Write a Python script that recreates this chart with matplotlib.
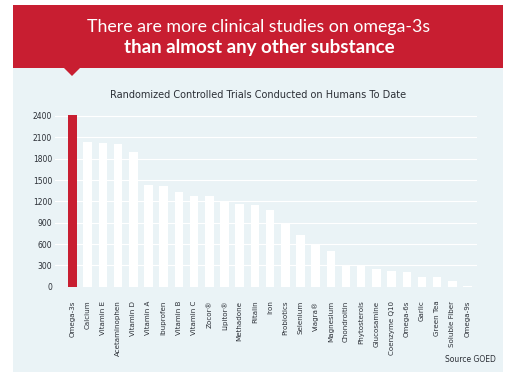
import matplotlib

matplotlib.use("Agg")
import matplotlib.pyplot as plt
from matplotlib.patches import Rectangle, Polygon

# data
substances = [
    "Omega-3s", "Calcium", "Vitamin E", "Acetaminophen", "Vitamin D",
    "Vitamin A", "Ibuprofen", "Vitamin B", "Vitamin C", "Zocor®",
    "Lipitor®", "Methadone", "Ritalin", "Iron", "Probiotics",
    "Selenium", "Viagra®", "Magnesium", "Chondroitin", "Phytosterols",
    "Glucosamine", "Coenzyme Q10", "Omega-6s", "Garlic", "Green Tea",
    "Soluble Fiber", "Omega-9s",
]
trials = [
    2410, 2030, 2015, 2000, 1890,
    1430, 1415, 1335, 1280, 1280,
    1205, 1165, 1150, 1080, 890,
    730, 600, 505, 285, 285,
    245, 225, 200, 140, 140,
    80, 10,
]
yticks = [0, 300, 600, 900, 1200, 1500, 1800, 2100, 2400]

RED = "#c81e31"
PANEL = "#eaf3f6"
TEXT = "#2b2f36"
NARROW = ["Liberation Sans Narrow", "DejaVu Sans"]

fig = plt.figure(figsize=(5.2, 3.74), dpi=100)
W, H = 520, 374


def px(x, y):
    return x / W, 1 - y / H


# light panel and red banner with notch
fig.patches.append(Rectangle(px(13, 372), 490 / W, 304 / H, transform=fig.transFigure,
                             facecolor=PANEL, edgecolor="none", zorder=-3))
fig.patches.append(Rectangle(px(13, 68), 490 / W, 63 / H, transform=fig.transFigure,
                             facecolor=RED, edgecolor="none", zorder=-2))
fig.patches.append(Polygon([px(63, 67), px(81, 67), px(72, 76)], closed=True,
                           transform=fig.transFigure, facecolor=RED,
                           edgecolor="none", zorder=-2))

fig.text(259 / W, 1 - 27 / H, "There are more clinical studies on omega-3s",
         ha="center", va="center", color="white", fontsize=12.8,
         family="Lato", zorder=2)
fig.text(259 / W, 1 - 48 / H, "than almost any other substance",
         ha="center", va="center", color="white", fontsize=13.5,
         family="Lato", fontweight="bold", zorder=2)
fig.text(258 / W, 1 - 95 / H, "Randomized Controlled Trials Conducted on Humans To Date",
         ha="center", va="center", color=TEXT, fontsize=7, family=NARROW)
fig.text(496 / W, 1 - 359 / H, "Source GOED", ha="right", va="center",
         color=TEXT, fontsize=5.5, family=NARROW)

ax = fig.add_axes([0.1058, 0.2334, 0.811, 0.466])
ax.set_facecolor("none")
colors = [RED] + ["white"] * (len(substances) - 1)
x = range(len(substances))
ax.bar(x, trials, width=0.56, color=colors, edgecolor="none", zorder=3)

ax.set_xlim(-1.15, len(substances) - 0.4)
ax.set_ylim(0, 2450)
ax.set_yticks(yticks)
ax.set_yticklabels([str(t) for t in yticks], family=NARROW, fontsize=5.5, color=TEXT)
ax.set_xticks(list(x))
ax.set_xticklabels(substances, rotation=90, family=NARROW, fontsize=5.1, color=TEXT)
ax.tick_params(length=0)
ax.tick_params(axis="x", pad=10)
ax.tick_params(axis="y", pad=2)
ax.grid(axis="y", color="white", linewidth=0.8, zorder=1)
for spine in ax.spines.values():
    spine.set_visible(False)

fig.savefig("out.png", dpi=100)
